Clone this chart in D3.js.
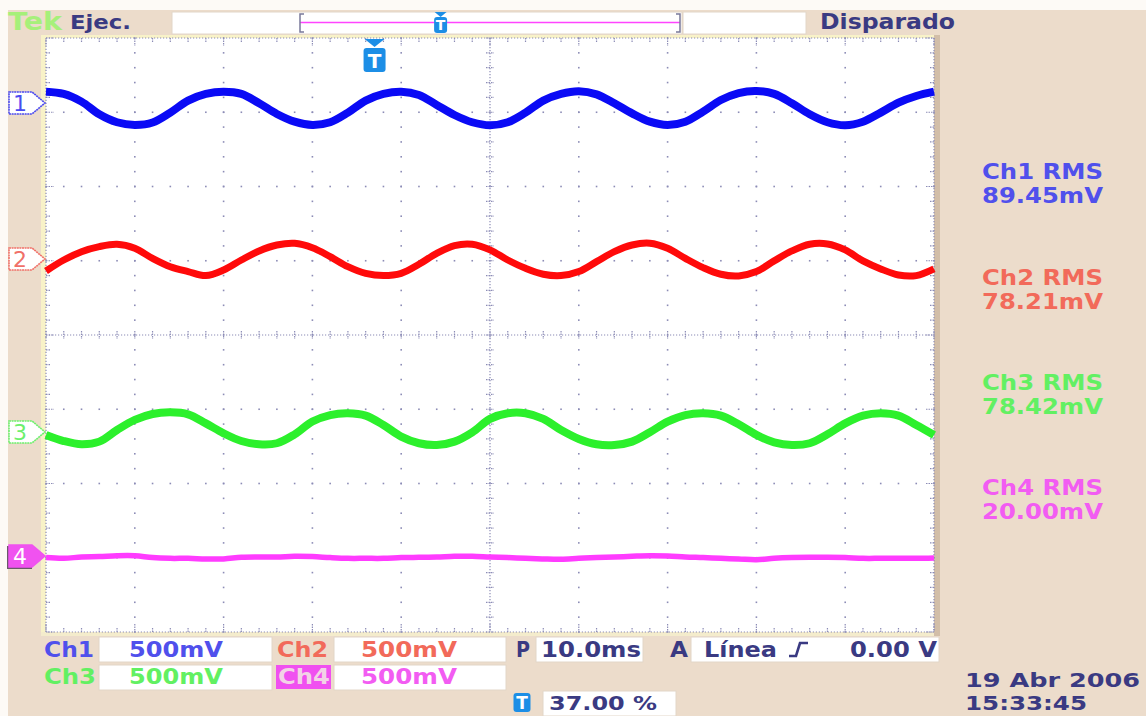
<!DOCTYPE html>
<html><head><meta charset="utf-8">
<script src="https://cdn.jsdelivr.net/npm/d3@7"></script>
<style>html,body{margin:0;padding:0;background:#fff;}svg{display:block}</style>
</head><body>
<svg id="c" width="1146" height="716"></svg>
<script>
// ---------------- DATA ----------------
const timeMs = [0,2,4,6,8,10,12,14,16,18,20,22,24,26,28,30,32,34,36,38,40,42,44,46,48,50,
                52,54,56,58,60,62,64,66,68,70,72,74,76,78,80,82,84,86,88,90,92,94,96,98,100];
// trace values in mV, relative to each channel's ground marker
const ch1mV = [76,61,9,-76,-130,-148,-132,-65,16,61,76,61,-2,-74,-126,-148,-130,-65,16,61,
               76,54,-13,-81,-130,-150,-130,-65,16,61,79,58,-2,-70,-126,-148,-126,-58,20,67,
               81,61,-2,-76,-130,-150,-126,-65,2,47,76];
const ch2mV = [-81,-7,49,83,99,72,4,-52,-85,-112,-74,-7,54,94,106,76,16,-52,-97,-112,
               -97,-36,38,90,99,61,-7,-63,-103,-112,-85,-18,49,94,106,72,4,-58,-103,-114,
               -85,-13,54,99,101,61,-13,-67,-108,-112,-67];
const ch3mV = [-20,-61,-83,-65,13,81,121,132,119,58,-9,-61,-83,-76,-16,70,114,126,110,47,
               -31,-76,-88,-65,-2,88,126,126,88,13,-47,-83,-88,-65,-2,70,114,126,110,52,
               -20,-70,-88,-76,-16,58,110,126,110,47,-20];
const ch4mV = [-11,-16,-7,-4,2,2,-11,-16,-16,-20,-20,-9,-7,-7,-2,-4,-11,-16,-16,-16,
               -11,-9,-7,-2,-2,-7,-11,-16,-20,-22,-16,-11,-7,-2,2,0,-7,-11,-16,-20,
               -25,-16,-11,-9,-9,-11,-16,-16,-16,-16,-13];
const channelNames = ["Ch1","Ch2","Ch3","Ch4"];
const channelPosDiv = [3.125, 1.024, -1.306, -2.976];   // channel ground marker position (divisions)
const channelScaleMv = [500, 500, 500, 500];
const channelScaleLabels = ["500mV","500mV","500mV","500mV"];
const rmsLabels = ["89.45mV","78.21mV","78.42mV","20.00mV"];
const timeDivLabel = "10.0ms";
const triggerPct = 37.0;
const triggerPctLabel = "37.00 %";
const triggerSource = "Línea";
const triggerLevel = "0.00 V";
const dateLabel = "19 Abr 2006";
const clockLabel = "15:33:45";
const traces = [ch1mV, ch2mV, ch3mV, ch4mV];

// ---------------- STYLE ----------------
const traceColors = ["#0a0af5","#ff0a0a","#2cf02c","#ff3cff"];
const traceWidths = [8, 7, 8, 5.5];
const textColors = ["#5050ec","#f26a5a","#62f062","#f25cf2"];
const markerColors = ["#4a4af0","#f07068","#6cf06c","#f052f0"];
const navy = "#3a3a82";
const beige = "#ecdccb";
const gridCol = "#8c8cb6";
const FONT = "DejaVu Sans, Verdana, sans-serif";

const svg = d3.select("#c");
const X0 = 46, X1 = 934, Y0 = 38, Y1 = 632;
const xT = d3.scaleLinear().domain([0, 100]).range([X0, X1]);
const xD = d3.scaleLinear().domain([0, 10]).range([X0, X1]);
const yD = d3.scaleLinear().domain([-4, 4]).range([Y1, Y0]);

// background
svg.append("rect").attr("x",0).attr("y",0).attr("width",1146).attr("height",716).attr("fill","#fdfaf6");
svg.append("rect").attr("x",8).attr("y",10).attr("width",1138).attr("height",706).attr("fill",beige);
// bevel strips around screen
svg.append("rect").attr("x",41).attr("y",35).attr("width",X1-41).attr("height",4).attr("fill","#f8f2c8");
svg.append("rect").attr("x",41).attr("y",35).attr("width",5).attr("height",Y1-35+4).attr("fill","#f8f2c8");
svg.append("rect").attr("x",X1).attr("y",35).attr("width",6).attr("height",Y1-35+4).attr("fill","#d2bea8");
svg.append("rect").attr("x",41).attr("y",Y1).attr("width",X1-41).attr("height",4).attr("fill","#f4eccc");
svg.append("rect").attr("x",X0).attr("y",Y0).attr("width",X1-X0).attr("height",Y1-Y0).attr("fill","#ffffff");

// ---------------- GRATICULE ----------------
const g = svg.append("g");
const minorX = d3.range(0, 10.0001, 0.2);
const minorY = d3.range(-4, 4.0001, 0.2);
const majorX = d3.range(1, 10);
const majorY = d3.range(-3, 4);
majorX.filter(i => i !== 5).forEach(i => {
  g.selectAll(null).data(minorY).enter().append("rect")
    .attr("x", xD(i) - 0.8).attr("y", d => yD(d) - 0.8).attr("width", 1.6).attr("height", 1.6).attr("fill", gridCol);
});
majorY.filter(j => j !== 0).forEach(j => {
  g.selectAll(null).data(minorX).enter().append("rect")
    .attr("x", d => xD(d) - 0.8).attr("y", yD(j) - 0.8).attr("width", 1.6).attr("height", 1.6).attr("fill", gridCol);
});
g.append("line").attr("x1", X0).attr("x2", X1).attr("y1", yD(0)).attr("y2", yD(0))
  .attr("stroke", gridCol).attr("stroke-width", 1.2).attr("stroke-dasharray", "1.2,1.8");
g.append("line").attr("x1", xD(5)).attr("x2", xD(5)).attr("y1", Y0).attr("y2", Y1)
  .attr("stroke", gridCol).attr("stroke-width", 1.2).attr("stroke-dasharray", "1.2,1.8");
g.selectAll(null).data(minorX).enter().append("line")
  .attr("x1", d => xD(d)).attr("x2", d => xD(d)).attr("y1", yD(0) - 4).attr("y2", yD(0) + 4)
  .attr("stroke", gridCol).attr("stroke-width", 1.2).attr("stroke-dasharray", "1.5,1");
g.selectAll(null).data(minorY).enter().append("line")
  .attr("y1", d => yD(d)).attr("y2", d => yD(d)).attr("x1", xD(5) - 4).attr("x2", xD(5) + 4)
  .attr("stroke", gridCol).attr("stroke-width", 1.2).attr("stroke-dasharray", "1.5,1");
g.append("rect").attr("x", X0).attr("y", Y0).attr("width", X1 - X0).attr("height", Y1 - Y0)
  .attr("fill", "none").attr("stroke", gridCol).attr("stroke-width", 1.2).attr("stroke-dasharray", "1.2,1.8");
const isMajor = d => Math.abs(d - Math.round(d)) < 1e-6;
g.selectAll(null).data(minorX).enter().append("line")
  .attr("x1", d => xD(d)).attr("x2", d => xD(d)).attr("y1", Y0).attr("y2", d => Y0 + (isMajor(d) ? 8 : 4))
  .attr("stroke", gridCol).attr("stroke-width", 1.2).attr("stroke-dasharray", "1.5,1");
g.selectAll(null).data(minorX).enter().append("line")
  .attr("x1", d => xD(d)).attr("x2", d => xD(d)).attr("y2", Y1).attr("y1", d => Y1 - (isMajor(d) ? 8 : 4))
  .attr("stroke", gridCol).attr("stroke-width", 1.2).attr("stroke-dasharray", "1.5,1");
g.selectAll(null).data(minorY).enter().append("line")
  .attr("y1", d => yD(d)).attr("y2", d => yD(d)).attr("x1", X0).attr("x2", d => X0 + (isMajor(d) ? 8 : 4))
  .attr("stroke", gridCol).attr("stroke-width", 1.2).attr("stroke-dasharray", "1.5,1");
g.selectAll(null).data(minorY).enter().append("line")
  .attr("y1", d => yD(d)).attr("y2", d => yD(d)).attr("x2", X1).attr("x1", d => X1 - (isMajor(d) ? 8 : 4))
  .attr("stroke", gridCol).attr("stroke-width", 1.2).attr("stroke-dasharray", "1.5,1");

// ---------------- TRACES ----------------
const tg = svg.append("g");
traces.forEach((vals, k) => {
  const pts = timeMs.map((t, i) => [t, vals[i]]);
  const line = d3.line()
    .x(d => xT(d[0]))
    .y(d => yD(channelPosDiv[k] + d[1] / channelScaleMv[k]))
    .curve(d3.curveCatmullRom.alpha(0.5));
  tg.append("path").attr("d", line(pts)).attr("fill", "none")
    .attr("stroke", traceColors[k]).attr("stroke-width", traceWidths[k]).attr("stroke-linejoin", "round");
});

// ---------------- TEXT HELPER ----------------
function txt(x, y, s, size, color, w, weight) {
  const t = svg.append("text").attr("x", x).attr("y", y).text(s)
    .attr("font-family", FONT).attr("font-size", size).attr("fill", color)
    .attr("font-weight", weight || "bold");
  if (w) t.attr("textLength", w).attr("lengthAdjust", "spacingAndGlyphs");
  return t;
}
function box(x, y, w, h) {
  svg.append("rect").attr("x", x).attr("y", y).attr("width", w).attr("height", h)
    .attr("fill", "#ffffff").attr("stroke", "#e2d6c8").attr("stroke-width", 1);
}

// ---------------- CHANNEL MARKERS ----------------
channelPosDiv.forEach((p, k) => {
  const yc = yD(p), h = 22, x0 = 9, x1 = 32, tip = 45;
  const path = `M${x0},${yc - h / 2} L${x1},${yc - h / 2} L${tip},${yc} L${x1},${yc + h / 2} L${x0},${yc + h / 2} Z`;
  if (k === 3) {
    svg.append("path").attr("d", `M${x0 - 1},${yc - h / 2 + 1} L${x0 - 1},${yc + h / 2 + 1} L${x1},${yc + h / 2 + 1}`)
      .attr("fill", "none").attr("stroke", "#6a5a6a").attr("stroke-width", 2);
    svg.append("path").attr("d", path).attr("fill", markerColors[k]).attr("stroke", markerColors[k]).attr("stroke-width", 1.5);
    txt(13, yc + 8, String(k + 1), 22, "#ffffff", null, "normal");
  } else {
    svg.append("path").attr("d", path).attr("fill", "#ffffff").attr("stroke", markerColors[k]).attr("stroke-width", 1.6)
      .attr("stroke-dasharray", "2,0.6");
    txt(13, yc + 8, String(k + 1), 22, markerColors[k], null, "normal");
  }
});

// ---------------- HEADER ----------------
txt(8, 30, "Tek", 24, "#a6f07a", 54);
txt(70, 29, "Ejec.", 20, navy, 61);
box(172, 12, 510, 22);
box(683, 12, 123, 22);
const recX = d3.scaleLinear().domain([0, 100]).range([300, 680]);
svg.append("line").attr("x1", recX(0)).attr("x2", recX(100)).attr("y1", 22.5).attr("y2", 22.5)
  .attr("stroke", "#ff44ff").attr("stroke-width", 1.6);
svg.append("path").attr("d", `M${recX(0) + 4},14 L${recX(0)},14 L${recX(0)},32 L${recX(0) + 4},32`)
  .attr("fill", "none").attr("stroke", "#7a7a9a").attr("stroke-width", 1.5);
svg.append("path").attr("d", `M${recX(100) - 4},14 L${recX(100)},14 L${recX(100)},32 L${recX(100) - 4},32`)
  .attr("fill", "none").attr("stroke", "#7a7a9a").attr("stroke-width", 1.5);
function tIcon(cx, top, w, h, fs) {
  svg.append("rect").attr("x", cx - w / 2).attr("y", top).attr("width", w).attr("height", h)
    .attr("rx", 3).attr("fill", "#1c8ee6");
  svg.append("text").attr("x", cx).attr("y", top + h * 0.82).attr("text-anchor", "middle").text("T")
    .attr("font-family", FONT).attr("font-weight", "bold").attr("font-size", fs).attr("fill", "#ffffff");
}
const tx1 = recX(triggerPct);
svg.append("path").attr("d", `M${tx1 - 6},12 L${tx1 + 6},12 L${tx1},17 Z`).attr("fill", "#1c8ee6");
tIcon(tx1, 17, 13, 16, 14);
const tx2 = xT(triggerPct);
svg.append("path").attr("d", `M${tx2 - 10},39 L${tx2 + 10},39 L${tx2},47 Z`).attr("fill", "#1c8ee6");
tIcon(tx2, 48, 22, 24, 20);
txt(820, 29, "Disparado", 22, navy, 135);

// ---------------- RMS READOUTS ----------------
const rmsBase = [179, 285, 390, 495];
channelNames.forEach((n, k) => {
  txt(982, rmsBase[k], n + " RMS", 21, textColors[k], 121, "bold");
  txt(982, rmsBase[k] + 24, rmsLabels[k], 21, textColors[k], 121, "bold");
});

// ---------------- BOTTOM STATUS ----------------
box(99, 637, 173, 25); box(334, 637, 172, 25);
box(99, 665, 173, 25); box(334, 665, 172, 25);
txt(44, 657, channelNames[0], 21, textColors[0], 50);
txt(129, 657, channelScaleLabels[0], 21, textColors[0], 94);
txt(277, 657, channelNames[1], 21, textColors[1], 51);
txt(361, 657, channelScaleLabels[1], 21, textColors[1], 96);
txt(44, 684, channelNames[2], 21, textColors[2], 52);
txt(129, 684, channelScaleLabels[2], 21, textColors[2], 94);
svg.append("rect").attr("x", 276).attr("y", 665).attr("width", 55).attr("height", 24).attr("fill", "#f050f0");
txt(278, 684, channelNames[3], 21, "#f2d2e6", 52);
txt(361, 684, channelScaleLabels[3], 21, textColors[3], 96);

txt(516, 657, "P", 21, navy, 14);
box(536, 637, 107, 25);
txt(541, 657, timeDivLabel, 21, navy, 100);
txt(670, 657, "A", 21, navy, 18);
box(691, 637, 248, 25);
txt(704, 657, triggerSource, 21, navy, 73);
svg.append("path").attr("d", "M789,656 L796,656 L800,643 L808,643")
  .attr("fill", "none").attr("stroke", navy).attr("stroke-width", 2.6);
txt(850, 657, triggerLevel, 21, navy, 87);

tIcon(522, 693, 17, 19, 17);
box(543, 691, 133, 25);
txt(549, 710, triggerPctLabel, 20, navy, 108);
txt(965, 687, dateLabel, 20, navy, 175);
txt(965, 710, clockLabel, 20, navy, 122);
</script>
</body></html>
